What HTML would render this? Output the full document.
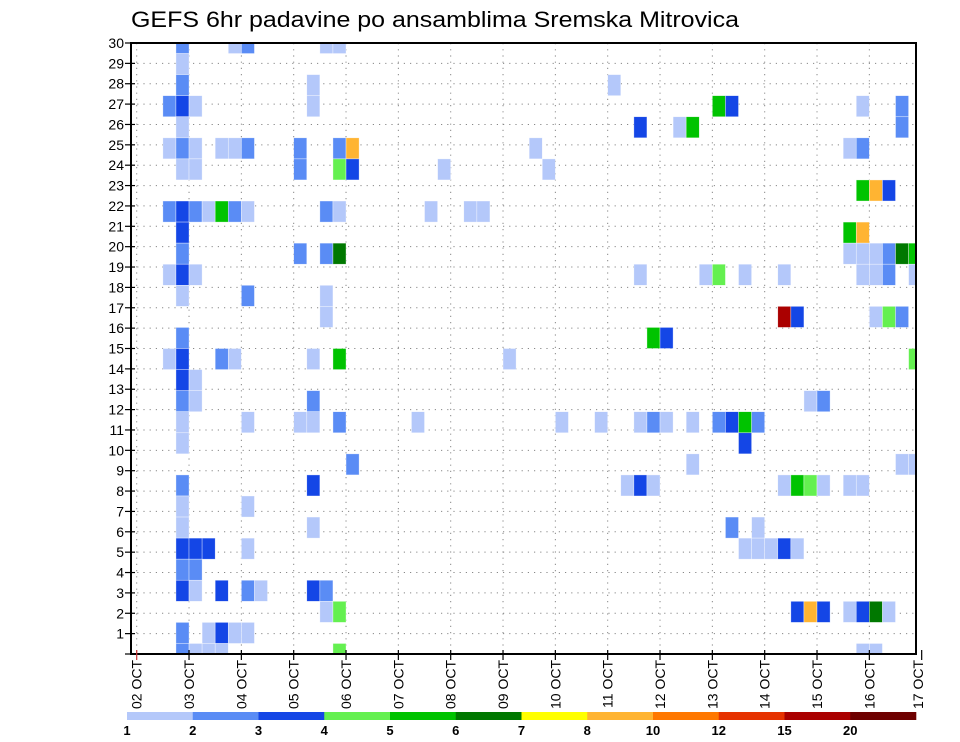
<!DOCTYPE html>
<html><head><meta charset="utf-8"><title>GEFS 6hr padavine</title>
<style>
html,body{margin:0;padding:0;background:#fff;}
svg{display:block;font-family:"Liberation Sans",sans-serif;}
</style></head>
<body>
<svg id="chart" width="960" height="742" viewBox="0 0 960 742" xmlns="http://www.w3.org/2000/svg">
<rect x="0" y="0" width="960" height="742" fill="#fff"/>
<text x="131" y="27" font-size="22" fill="#000" textLength="608" lengthAdjust="spacingAndGlyphs">GEFS 6hr padavine po ansamblima Sremska Mitrovica</text>
<defs><clipPath id="plotclip"><rect x="131" y="43" width="785" height="611"/></clipPath></defs>
<g id="grid"></g>
<g id="cells" clip-path="url(#plotclip)"></g>
<g id="axes"></g>
<g id="colorbar"></g>
</svg>
<script>
// ---- data ----
const dayLabels = ["02 OCT","03 OCT","04 OCT","05 OCT","06 OCT","07 OCT","08 OCT","09 OCT","10 OCT","11 OCT","12 OCT","13 OCT","14 OCT","15 OCT","16 OCT","17 OCT"];
const memberTicks = [0,1,2,3,4,5,6,7,8,9,10,11,12,13,14,15,16,17,18,19,20,21,22,23,24,25,26,27,28,29,30];
const levelLabels = ["1","2","3","4","5","6","7","8","10","12","15","20"];
const levelColors = ["#b4c8fa","#5a8cf5","#1446e6","#64f050","#00c300","#007800","#ffff00","#ffb432","#ff7800","#e63200","#aa0000","#6e0000"];
// cell member row (0 = bottom), 6-hour step index from 02 OCT 00Z, and colour level index
const cellRow = [
29,29,29,29,29,
28,
27,27,27,
26,26,26,26,26,26,26,26,
25,25,25,25,25,
24,24,24,24,24,24,24,24,24,24,24,24,
23,23,23,23,23,23,23,
22,22,22,
21,21,21,21,21,21,21,21,21,21,21,21,
20,20,20,
19,19,19,19,19,19,19,19,19,19,
18,18,18,18,18,18,18,18,18,18,18,18,
17,17,17,
16,16,16,16,16,16,
15,15,15,
14,14,14,14,14,14,14,14,
13,13,
12,12,12,12,12,
11,11,11,11,11,11,11,11,11,11,11,11,11,11,11,11,
10,10,
9,9,9,9,
8,8,8,8,8,8,8,8,8,8,8,
7,7,
6,6,6,6,
5,5,5,5,5,5,5,5,5,
4,4,
3,3,3,3,3,3,3,
2,2,2,2,2,2,2,2,2,
1,1,1,1,1,
0,0,0,0,0,0,0];
const cellStep = [
3,7,8,14,15,
3,
3,13,36,
2,3,4,13,44,45,55,58,
3,38,41,42,58,
2,3,4,6,7,8,12,15,16,30,54,55,
3,4,12,15,16,23,31,
55,56,57,
2,3,4,5,6,7,8,14,15,22,25,26,
3,54,55,
3,12,14,15,54,55,56,57,58,59,
2,3,4,38,43,44,46,49,55,56,57,59,
3,8,14,
14,49,50,56,57,58,
3,39,40,
2,3,6,7,13,15,28,59,
3,4,
3,4,13,51,52,
3,8,12,13,15,21,32,35,38,39,40,42,44,45,46,47,
3,46,
16,42,58,59,
3,13,37,38,39,49,50,51,52,54,55,
3,8,
3,13,45,47,
3,4,5,8,46,47,48,49,50,
3,4,
3,4,6,8,9,13,14,
14,15,50,51,52,54,55,56,57,
3,5,6,7,8,
3,4,5,6,15,55,56];
const cellLevel = [
1,0,1,0,0,
0,
1,0,0,
1,2,0,0,4,2,0,1,
0,2,0,4,1,
0,1,0,0,0,1,1,1,7,0,0,1,
0,0,1,3,2,0,0,
4,7,2,
1,2,1,0,4,1,0,1,0,0,0,0,
2,4,7,
1,1,1,5,0,0,0,1,5,4,
0,2,0,0,0,3,0,0,0,0,1,0,
0,1,0,
0,10,2,0,3,1,
1,4,2,
0,2,1,0,0,4,0,3,
2,0,
1,0,1,0,1,
0,0,0,0,1,0,0,0,0,1,0,0,1,2,4,1,
0,2,
1,0,0,0,
1,2,0,2,0,0,4,3,0,0,0,
0,0,
0,0,1,0,
2,2,2,0,0,0,0,2,0,
1,1,
2,0,2,1,0,2,1,
0,3,2,7,2,0,2,5,0,
1,0,2,0,0,
1,0,0,0,3,0,0];

// ---- axis functions ----
const PL = 131, PR = 916, PT = 43, PB = 654;
const X0 = 136.7, STEP_W = 13.083;           // 6-hour column width
const xStep = k => X0 + k * STEP_W;          // boundary of step k
const xDay = d => X0 + d * 4 * STEP_W;
const ROW_H = (PB - PT) / 29;                // 30 members spread over the plot
const yMember = j => PB - j * ROW_H;         // centre of member row
const yTick = r => PB - r * (PB - PT) / 30;  // axis label position

const NS = "http://www.w3.org/2000/svg";
function mk(tag, attrs, parent) {
  const e = document.createElementNS(NS, tag);
  for (const k in attrs) e.setAttribute(k, attrs[k]);
  parent.appendChild(e);
  return e;
}
const grid = document.getElementById("grid");
const cells = document.getElementById("cells");
const axes = document.getElementById("axes");
const cbar = document.getElementById("colorbar");

// grid lines
memberTicks.forEach(r => {
  if (r === 0 || r === 30) return;
  const y = yTick(r);
  const l = mk("line", {x1: PL, x2: PR, y1: y, y2: y, stroke: "#888", "stroke-width": 1, "stroke-dasharray": "1.2 5"}, grid);
  
  
});
dayLabels.forEach((lab, d) => {
  const x = xDay(d);
  if (x <= PL || x >= PR) return;
  const l = mk("line", {x1: x, x2: x, y1: PT, y2: PB, stroke: "#888", "stroke-width": 1, "stroke-dasharray": "1.2 5"}, grid);
  
  
});

// cells
for (let i = 0; i < cellRow.length; i++) {
  const x = xStep(cellStep[i]);
  const y = yMember(cellRow[i]) - ROW_H / 2;
  const r = mk("rect", {x: x, y: y, width: STEP_W, height: ROW_H, fill: levelColors[cellLevel[i]], stroke: "rgba(255,255,255,0.6)", "stroke-width": 0.6}, cells);
  
  
}

// frame
const fr = mk("rect", {x: PL, y: PT, width: PR - PL, height: PB - PT, fill: "none", stroke: "#000", "stroke-width": 2}, axes);



// y ticks & labels
memberTicks.forEach(r => {
  const y = yTick(r);
  const t = mk("line", {x1: PL - 6, x2: PL + 4, y1: y, y2: y, stroke: "#000", "stroke-width": 1.2}, axes);
  
  
  if (r === 0) return;
  const tx = mk("text", {x: PL - 7, y: y + 5, "font-size": 14, "text-anchor": "end", fill: "#000"}, axes);
  tx.textContent = String(r);
  
  
});

// x ticks & labels
dayLabels.forEach((lab, d) => {
  const x = xDay(d);
  const t = mk("line", {x1: x, x2: x, y1: PB - 4, y2: PB + 6, stroke: d === 0 ? "#c33" : "#000", "stroke-width": 1.2}, axes);
  
  
  const lx = Math.min(x, 918) + 5;
  const tx = mk("text", {x: 0, y: 0, "font-size": 14, "text-anchor": "end", fill: "#000", transform: "translate(" + lx + ",660) rotate(-90)"}, axes);
  tx.textContent = lab;
  
  
});

// colorbar
const CB0 = 127, CB1 = 916, segW = (CB1 - CB0) / levelColors.length;
levelColors.forEach((c, k) => {
  const r = mk("rect", {x: CB0 + k * segW, y: 712, width: segW + 0.3, height: 8, fill: c}, cbar);
  
  
});
levelLabels.forEach((lab, k) => {
  const tx = mk("text", {x: CB0 + k * segW, y: 735, "font-size": 13, "font-weight": "bold", "text-anchor": "middle", fill: "#000"}, cbar);
  tx.textContent = lab;
  
  
});
</script>
</body></html>
